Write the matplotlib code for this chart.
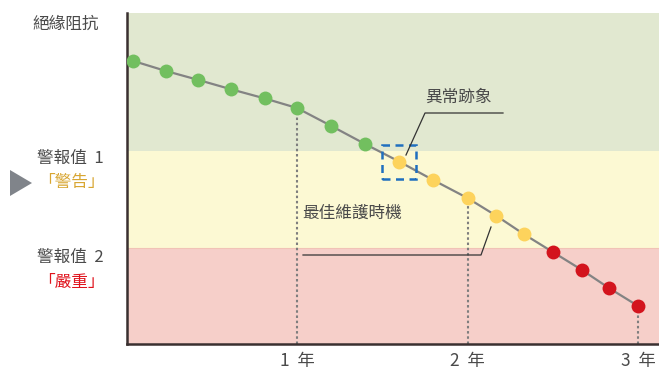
import matplotlib
matplotlib.use("Agg")
import matplotlib.pyplot as plt
from matplotlib.patches import Polygon, Rectangle

plt.rcParams['font.family'] = ['Noto Sans CJK TC', 'DejaVu Sans']

# ---- data ----
years = [0.04, 0.23, 0.42, 0.61, 0.81, 1.0, 1.2, 1.4, 1.6, 1.8, 2.0,
         2.17, 2.33, 2.5, 2.67, 2.83, 3.0]
resistance = [85.5, 82.5, 79.8, 77.0, 74.2, 71.3, 65.9, 60.4, 55.1, 49.5, 44.1,
              38.7, 33.2, 27.8, 22.4, 16.9, 11.5]
status = ['ok'] * 8 + ['warn'] * 5 + ['crit'] * 4
warn_level = 58.3
crit_level = 29.0
tick_years = [1, 2, 3]
tick_labels = ['1  年', '2  年', '3  年']
guide_years = [1, 2, 3]

W, H = 659, 372
fig = plt.figure(figsize=(W / 100, H / 100), dpi=100)

def fx(px):
    return px / W

def fy(py):
    return 1 - py / H

ax_left, ax_right, ax_top, ax_bottom = 126.5, 659, 13, 344
ax = fig.add_axes([fx(ax_left), fy(ax_bottom), fx(ax_right - ax_left), (ax_bottom - ax_top) / H])
xmax = (ax_right - ax_left) / 170.5
ax.set_xlim(0, xmax)
ax.set_ylim(0, 100)

# bands
ax.axhspan(warn_level, 100, color='#e1e8d0', zorder=0, lw=0)
ax.axhspan(crit_level, warn_level, color='#fcf9d3', zorder=0, lw=0)
ax.axhspan(0, crit_level, color='#f6cfc9', zorder=0, lw=0)
ax.axhline(crit_level, color='#f1c3b6', lw=0.8, zorder=0.5)

# guide lines
for gy in guide_years:
    i = years.index(min(years, key=lambda v: abs(v - gy)))
    ax.plot([gy, gy], [0, resistance[i]], color='#7e7e7e', lw=1.5,
            ls=(0, (1.2, 1.3)), zorder=1)

# line + markers
ax.plot(years, resistance, color='#838383', lw=1.6, zorder=2)
cmap = {'ok': '#72bf5f', 'warn': '#fdd35c', 'crit': '#d3141d'}
for x, y, s in zip(years, resistance, status):
    ax.plot(x, y, 'o', ms=10, color=cmap[s], mec='none', zorder=3)

# dashed highlight box around anomaly point
ai = 8
bw, bh = 34 / 170.5, 34 / 331 * 100
ax.add_patch(Rectangle((years[ai] - bw / 2, resistance[ai] - bh / 2), bw, bh,
                       fill=False, ec='#1f6fbf', lw=1.8, ls=(0, (3.2, 2.2)), zorder=4))

# annotation leader lines
def dx(px):
    return (px - ax_left) / 170.5

def dy(py):
    return (ax_bottom - py) / 331 * 100

TXT = '#4a4a4a'

ax.plot([dx(503), dx(425), dx(406)], [dy(113), dy(113), dy(155)],
        color='#333333', lw=0.9, zorder=5)
ax.text(dx(458), dy(97), '異常跡象', ha='center', va='center', fontsize=12, color=TXT)

ax.plot([dx(303), dx(481), dx(491)], [dy(255), dy(255), dy(227)],
        color='#333333', lw=0.9, zorder=5)
ax.text(dx(302), dy(213), '最佳維護時機', ha='left', va='center', fontsize=12, color=TXT)

# axes styling
for s in ['top', 'right']:
    ax.spines[s].set_visible(False)
ax.spines['left'].set_color('#3a3030')
ax.spines['bottom'].set_color('#3a3030')
ax.spines['left'].set_linewidth(1.8)
ax.spines['bottom'].set_linewidth(1.8)
ax.set_yticks([])
ax.set_xticks(tick_years)
ax.set_xticklabels(tick_labels, fontsize=12.5, color=TXT)
ax.tick_params(axis='x', length=0, pad=6)

# left labels
fig.text(fx(66), fy(24), '絕緣阻抗', ha='center', va='center', fontsize=12, color=TXT)
fig.text(fx(70), fy(158), '警報值  1', ha='center', va='center', fontsize=12, color=TXT)
fig.text(fx(71), fy(182), '「警告」', ha='center', va='center', fontsize=12, color='#d8a632')
fig.text(fx(70), fy(257), '警報值  2', ha='center', va='center', fontsize=12, color=TXT)
fig.text(fx(71), fy(282), '「嚴重」', ha='center', va='center', fontsize=12, color='#e0141e')

tri = Polygon([(fx(10), fy(170)), (fx(10), fy(196)), (fx(32), fy(183))],
              closed=True, transform=fig.transFigure, color='#80848a', lw=0)
fig.patches.append(tri)

fig.savefig('out.png', dpi=100)
